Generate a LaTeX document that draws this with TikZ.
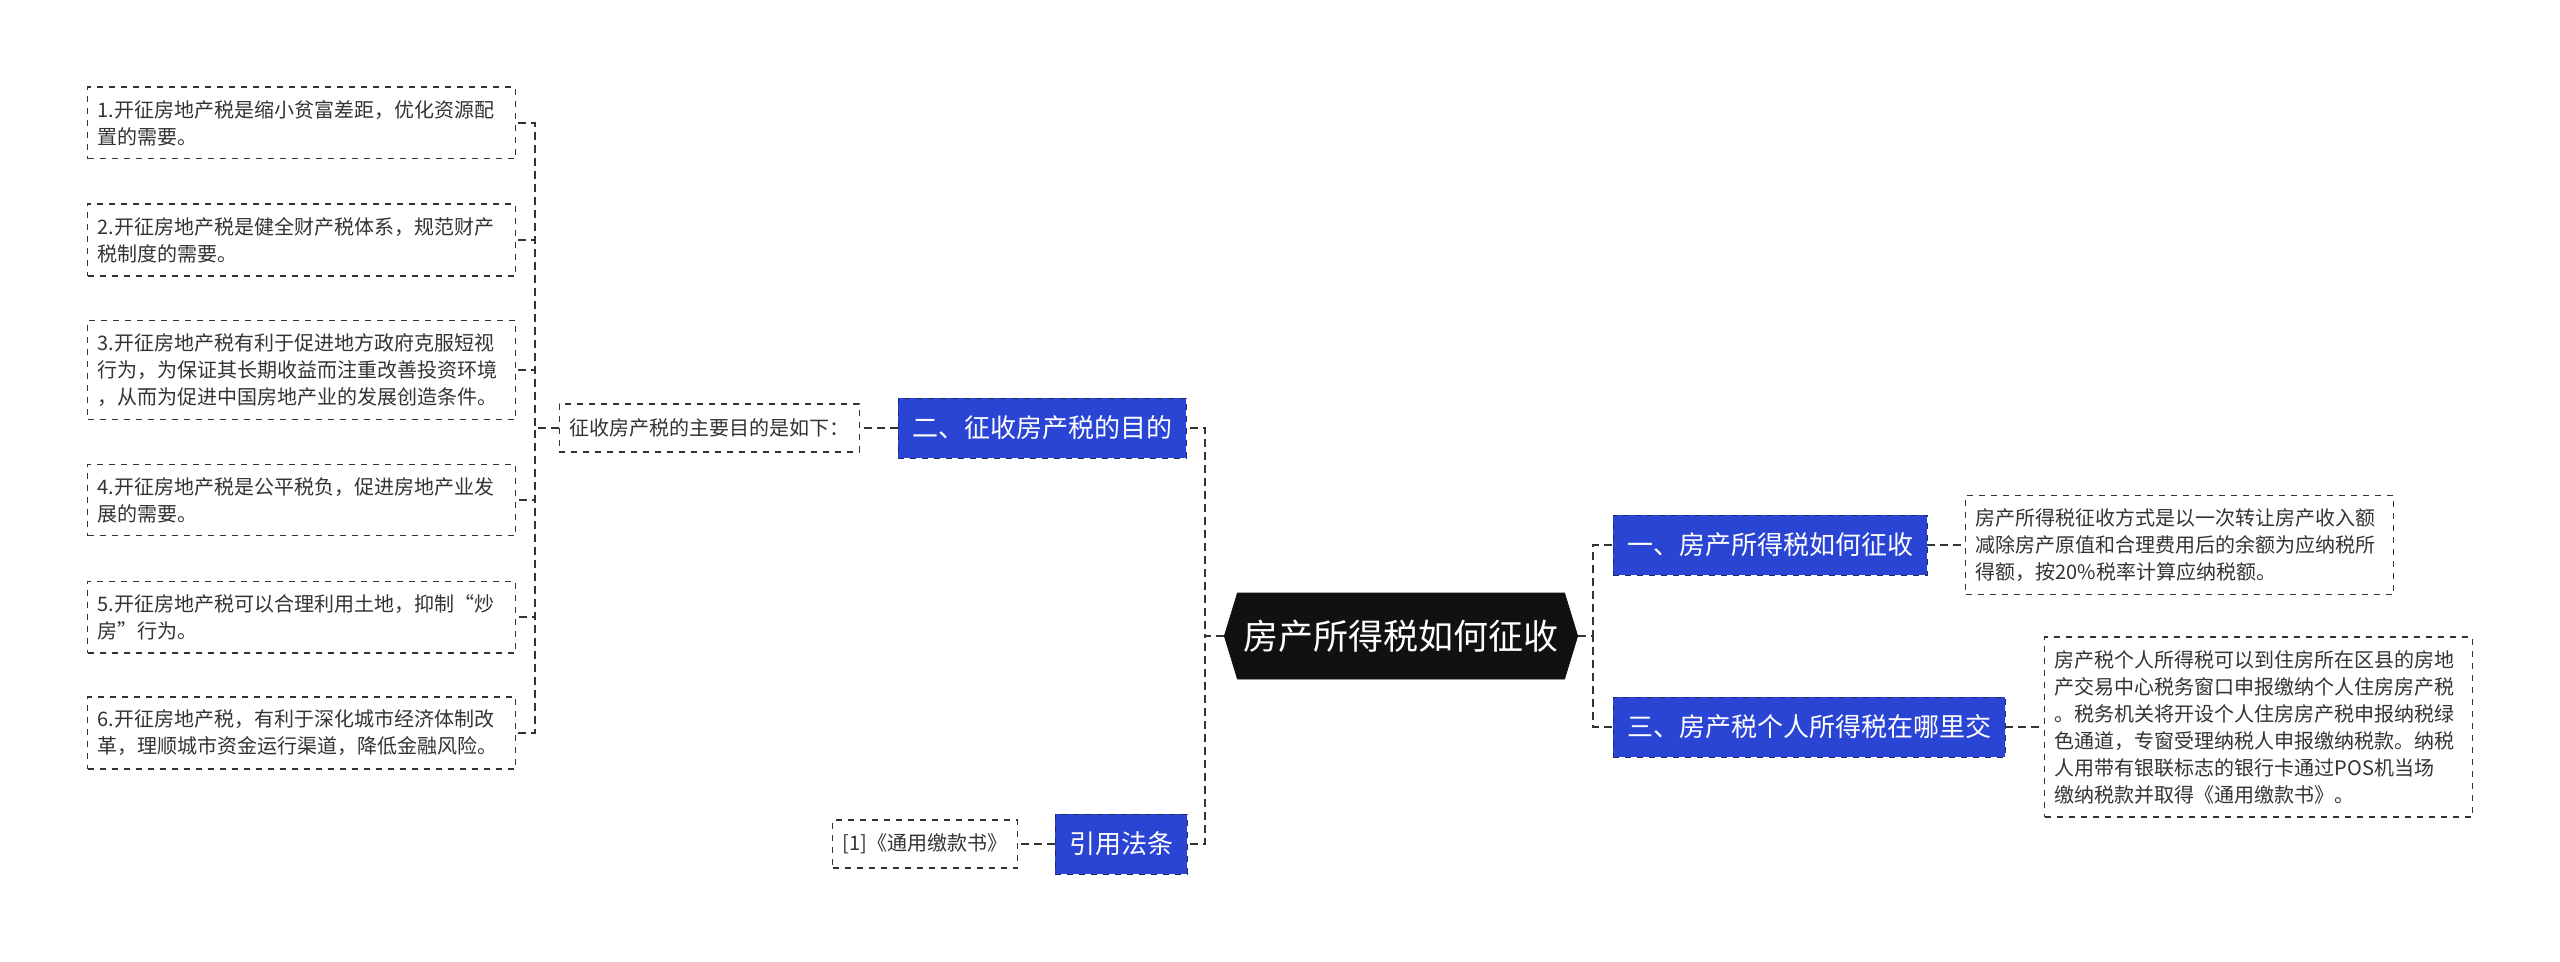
\documentclass[tikz,border=0pt]{standalone}
\usepackage{fontspec}
\setmainfont{Noto Sans CJK SC}
\usepackage{tikz}
\usetikzlibrary{shapes.symbols}
\definecolor{topicblue}{HTML}{2A44D4}
\definecolor{topicedge}{HTML}{1C2A6B}
\definecolor{rootdark}{HTML}{111111}
\definecolor{linegray}{HTML}{333333}

\begin{document}
\begin{tikzpicture}[
  x=0.5pt, y=-0.5pt,
  rootbox/.style  = {signal, signal to=east and west, signal pointer angle=146, fill=rootdark, draw=rootdark, text=white, minimum height=43pt, inner xsep=3pt, font=\fontsize{17.5}{21}\selectfont},
  topicbox/.style = {draw=topicedge, dashed, fill=topicblue, text=white, minimum height=30pt, inner xsep=7pt, font=\fontsize{13}{16}\selectfont},
  notebox/.style  = {draw=linegray, dashed, line width=0.7pt, fill=white, text=linegray, align=left, text width=204pt, inner xsep=5pt, inner ysep=6.5pt, font=\fontsize{10}{13.5}\selectfont},
  tagbox/.style   = {draw=linegray, dashed, line width=0.7pt, fill=white, text=linegray, minimum height=24pt, inner xsep=5pt, font=\fontsize{10}{13.5}\selectfont},
  link/.style     = {draw=linegray, line width=1pt, dash pattern=on 4pt off 2.5pt},
]
\useasboundingbox (0,0) rectangle (2560,962);
% centre and main topics
\node[rootbox] (root) at (1401,636) {房产所得税如何征收};
\node[topicbox] (purpose) at (1042,428) {二、征收房产税的目的};
\node[topicbox] (cite) at (1121,844) {引用法条};
\node[topicbox] (howtax) at (1770,545) {一、房产所得税如何征收};
\node[topicbox] (where) at (1809,727) {三、房产税个人所得税在哪里交};
% notes
\node[tagbox, anchor=east] (intro) at (860,428) {征收房产税的主要目的是如下：};
\node[tagbox, anchor=east] (ref) at (1018,844) {[1]《通用缴款书》};
\node[notebox, anchor=west] (howtxt) at (1965,545) {房产所得税征收方式是以一次转让房产收入额\\减除房产原值和合理费用后的余额为应纳税所\\得额，按20\%税率计算应纳税额。};
\node[notebox, anchor=west] (wheretxt) at (2044,727) {房产税个人所得税可以到住房所在区县的房地\\产交易中心税务窗口申报缴纳个人住房房产税\\。税务机关将开设个人住房房产税申报纳税绿\\色通道，专窗受理纳税人申报缴纳税款。纳税\\人用带有银联标志的银行卡通过POS机当场\\缴纳税款并取得《通用缴款书》。};
\node[notebox, anchor=west] (item1) at (87,123) {1.开征房地产税是缩小贫富差距，优化资源配\\置的需要。};
\node[notebox, anchor=west] (item2) at (87,240) {2.开征房地产税是健全财产税体系，规范财产\\税制度的需要。};
\node[notebox, anchor=west] (item3) at (87,370) {3.开征房地产税有利于促进地方政府克服短视\\行为，为保证其长期收益而注重改善投资环境\\，从而为促进中国房地产业的发展创造条件。};
\node[notebox, anchor=west] (item4) at (87,500) {4.开征房地产税是公平税负，促进房地产业发\\展的需要。};
\node[notebox, anchor=west] (item5) at (87,617) {5.开征房地产税可以合理利用土地，抑制“炒\\房”行为。};
\node[notebox, anchor=west] (item6) at (87,733) {6.开征房地产税，有利于深化城市经济体制改\\革，理顺城市资金运行渠道，降低金融风险。};
% joints
\coordinate (ljoin) at (1205,636);
\coordinate (rjoin) at (1593,636);
\coordinate (njoin) at (535,428);
% connectors
\draw[link] (root.west) -- (ljoin) |- (purpose.east);
\draw[link] (root.west) -- (ljoin) |- (cite.east);
\draw[link] (root.east) -- (rjoin) |- (howtax.west);
\draw[link] (root.east) -- (rjoin) |- (where.west);
\draw[link] (howtax.east) -- (howtxt.west);
\draw[link] (where.east) -- (wheretxt.west);
\draw[link] (purpose.west) -- (intro.east);
\draw[link] (cite.west) -- (ref.east);
\draw[link] (intro.west) -- (njoin) |- (item1.east);
\draw[link] (intro.west) -- (njoin) |- (item2.east);
\draw[link] (intro.west) -- (njoin) |- (item3.east);
\draw[link] (intro.west) -- (njoin) |- (item4.east);
\draw[link] (intro.west) -- (njoin) |- (item5.east);
\draw[link] (intro.west) -- (njoin) |- (item6.east);
\end{tikzpicture}
\end{document}
